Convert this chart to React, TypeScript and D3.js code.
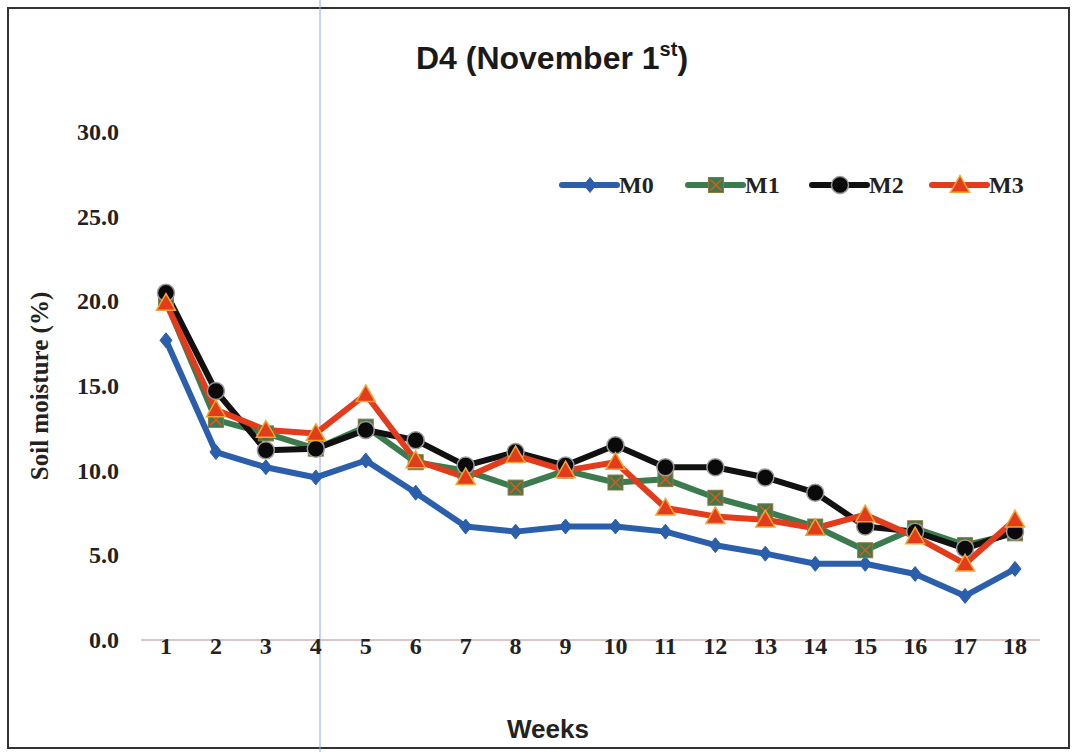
import React from "react";
import * as d3 from "d3";

const weeks = ["1","2","3","4","5","6","7","8","9","10","11","12","13","14","15","16","17","18"];
const m0 = [17.7, 11.1, 10.2, 9.6, 10.6, 8.7, 6.7, 6.4, 6.7, 6.7, 6.4, 5.6, 5.1, 4.5, 4.5, 3.9, 2.6, 4.2];
const m1 = [20.0, 13.0, 12.2, 11.3, 12.6, 10.5, 10.0, 9.0, 10.0, 9.3, 9.5, 8.4, 7.6, 6.7, 5.3, 6.6, 5.6, 6.3];
const m2 = [20.5, 14.7, 11.2, 11.3, 12.4, 11.8, 10.3, 11.1, 10.3, 11.5, 10.2, 10.2, 9.6, 8.7, 6.7, 6.4, 5.4, 6.4];
const m3 = [19.9, 13.6, 12.4, 12.2, 14.5, 10.6, 9.6, 10.9, 10.0, 10.5, 7.8, 7.3, 7.1, 6.6, 7.4, 6.1, 4.5, 7.1];
const yTicks = [0, 5, 10, 15, 20, 25, 30];
const seriesNames = ["M0", "M1", "M2", "M3"];

const W = 1072, H = 752;
const x = d3.scaleBand<string>().domain(weeks).range([141, 1040]);
const y = d3.scaleLinear().domain([0, 30]).range([640, 132]);
const cx = (w: string) => (x(w) as number) + x.bandwidth() / 2;

const colors = ["#2b5fab", "#3c7b4d", "#111111", "#e23c1c"];
const data = [m0, m1, m2, m3];
const serif = "Liberation Serif, Times New Roman, serif";
const sans = "Liberation Sans, Arial, sans-serif";

function Marker({ k, px, py }: { k: number; px: number; py: number }) {
  if (k === 0) {
    const s = 7.5;
    return <path d={`M${px},${py - s}L${px + s * 0.8},${py}L${px},${py + s}L${px - s * 0.8},${py}Z`} fill="#2b5fab" stroke="#2b5fab" strokeWidth={1} />;
  }
  if (k === 1) {
    const s = 7.5;
    return (
      <g>
        <rect x={px - s} y={py - s} width={2 * s} height={2 * s} fill="#3c7b4d" stroke="#8a7a40" strokeWidth={1} />
        <path d={`M${px - s + 2},${py - s + 2}L${px + s - 2},${py + s - 2}M${px + s - 2},${py - s + 2}L${px - s + 2},${py + s - 2}`} stroke="#e2561c" strokeWidth={1.5} />
      </g>
    );
  }
  if (k === 2) {
    return <circle cx={px} cy={py} r={8.5} fill="#0a0a0a" stroke="#9a9a9a" strokeWidth={1.5} />;
  }
  const s = 9.5;
  return <path d={`M${px},${py - s}L${px + s},${py + s * 0.75}L${px - s},${py + s * 0.75}Z`} fill="#e23c1c" stroke="#f2a530" strokeWidth={1.5} />;
}

export default function App() {
  const line = d3.line<number>().x((_, i) => cx(weeks[i])).y((d) => y(d));
  const legendX = [562, 688, 812, 932];
  const legendY = 185;
  return (
    <svg width={W} height={H} style={{ position: "absolute", left: 0, top: 0, background: "#fff" }}>
      <rect x={0} y={0} width={W} height={H} fill="#fff" />
      <rect x={8} y={8} width={1061} height={740} fill="none" stroke="#333" strokeWidth={2} />
      <line x1={320} x2={320} y1={0} y2={H} stroke="#8fa6f0" strokeWidth={1} />
      <text x={552} y={69} textAnchor="middle" fontFamily={sans} fontWeight="bold" fontSize={32} fill="#1a1a1a">
        D4 (November 1<tspan fontSize={20} dy={-13}>st</tspan><tspan dy={13}>)</tspan>
      </text>
      {yTicks.map((t) => (
        <text key={t} x={119} y={y(t) + 8} textAnchor="end" fontFamily={serif} fontWeight="bold" fontSize={24} fill="#222">
          {t.toFixed(1)}
        </text>
      ))}
      <line x1={141} x2={1040} y1={y(0)} y2={y(0)} stroke="#cdb5b5" strokeWidth={1.5} />
      {weeks.map((w) => (
        <text key={w} x={cx(w)} y={654} textAnchor="middle" fontFamily={serif} fontWeight="bold" fontSize={24} fill="#222">
          {w}
        </text>
      ))}
      <text transform={`translate(48,386) rotate(-90)`} textAnchor="middle" fontFamily={serif} fontWeight="bold" fontSize={25} fill="#222">
        Soil moisture (%)
      </text>
      <text x={548} y={738} textAnchor="middle" fontFamily={sans} fontWeight="bold" fontSize={26} fill="#222">
        Weeks
      </text>
      {data.map((d, k) => (
        <path key={k} d={line(d) || ""} fill="none" stroke={colors[k]} strokeWidth={6} strokeLinejoin="round" />
      ))}
      {data.map((d, k) => (
        <g key={"m" + k}>
          {d.map((v, i) => (
            <Marker key={i} k={k} px={cx(weeks[i])} py={y(v)} />
          ))}
        </g>
      ))}
      {seriesNames.map((n, k) => (
        <g key={n}>
          <line x1={legendX[k]} x2={legendX[k] + 55} y1={legendY} y2={legendY} stroke={colors[k]} strokeWidth={6} strokeLinecap="round" />
          <Marker k={k} px={legendX[k] + 28} py={legendY} />
          <text x={legendX[k] + 57} y={legendY + 8} fontFamily={serif} fontWeight="bold" fontSize={24} fill="#222">
            {n}
          </text>
        </g>
      ))}
    </svg>
  );
}
